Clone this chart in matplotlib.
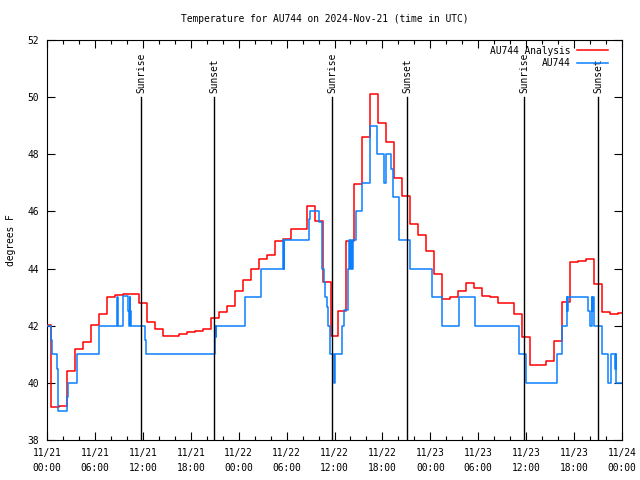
import matplotlib
matplotlib.use("Agg")
import matplotlib.pyplot as plt
import numpy as np

# ---- data ----
analysis_hours = list(range(0, 73))
analysis_temp = [42.02, 39.15, 39.2, 40.4, 41.17, 41.42, 42.02, 42.41, 43.0, 43.06,
                 43.1, 43.1, 42.78, 42.12, 41.9, 41.64, 41.64, 41.7, 41.77, 41.82,
                 41.88, 42.28, 42.47, 42.7, 43.23, 43.59, 44.0, 44.32, 44.46, 44.95,
                 45.03, 45.37, 45.4, 46.19, 45.66, 43.54, 41.65, 42.52, 44.97, 46.95,
                 48.6, 50.1, 49.08, 48.42, 47.16, 46.54, 45.55, 45.18, 44.63, 43.81,
                 42.94, 43.02, 43.23, 43.48, 43.31, 43.05, 43.02, 42.78, 42.78, 42.41,
                 41.6, 40.61, 40.61, 40.76, 41.47, 42.83, 44.22, 44.25, 44.32, 43.46,
                 42.49, 42.41, 42.46]

obs_hours = [0.0, 0.46, 0.58, 1.21, 1.34, 1.42, 2.55, 2.67, 3.8, 6.55,
             8.81, 8.9, 8.95, 9.56, 10.18, 10.25, 10.35, 10.42, 10.5, 10.69,
             12.27, 12.4, 21.05, 21.1, 21.17, 24.79, 26.75, 29.59, 29.63, 29.68,
             32.81, 32.93, 34.02, 34.4, 34.65, 34.85, 35.02, 35.23, 35.44, 35.9,
             36.0, 36.9, 37.19, 37.73, 37.85, 37.95, 38.05, 38.15, 38.36, 38.69,
             39.4, 40.45, 41.28, 42.24, 42.41, 43.08, 43.37, 44.12, 45.45, 48.17,
             49.42, 51.55, 53.59, 59.06, 59.98, 63.82, 64.53, 65.07, 65.15, 65.25,
             65.49, 67.79, 67.95, 68.25, 68.3, 68.37, 68.45, 69.46, 70.29, 70.62,
             71.12, 71.2, 71.25, 72.0]
obs_temp = [42.0, 41.5, 41.0, 40.5, 39.5, 39.0, 39.5, 40.0, 41.0, 42.0,
            43.0, 42.5, 42.0, 43.05, 42.5, 42.0, 43.0, 42.5, 42.0, 42.0,
            41.5, 41.0, 42.0, 41.6, 42.0, 43.0, 44.0, 45.0, 44.0, 45.0,
            45.72, 46.0, 45.64, 44.0, 43.54, 43.0, 42.67, 42.0, 41.0, 40.0,
            41.0, 42.0, 42.55, 44.0, 45.0, 44.0, 45.0, 44.0, 45.0, 46.0,
            47.0, 49.0, 48.0, 47.0, 48.0, 47.5, 46.5, 45.0, 44.0, 43.0,
            42.0, 43.0, 42.0, 41.0, 40.0, 41.0, 42.0, 43.0, 42.5, 43.0,
            43.0, 42.5, 42.0, 43.0, 42.5, 43.0, 42.0, 41.0, 40.0, 41.0,
            40.5, 41.0, 40.0, 40.0]

sun_hours = [11.77, 20.96, 35.69, 45.08, 59.73, 68.99]
sun_labels = ["Sunrise", "Sunset", "Sunrise", "Sunset", "Sunrise", "Sunset"]

xtick_hours = list(range(0, 73, 6))
xtick_labels = ["11/21\n00:00", "11/21\n06:00", "11/21\n12:00", "11/21\n18:00",
                "11/22\n00:00", "11/22\n06:00", "11/22\n12:00", "11/22\n18:00",
                "11/23\n00:00", "11/23\n06:00", "11/23\n12:00", "11/23\n18:00",
                "11/24\n00:00"]
ytick_vals = list(range(38, 53, 2))

title = "Temperature for AU744 on 2024-Nov-21 (time in UTC)"

# ---- plot ----
FS = 6.9
plt.rcParams['font.family'] = ['DejaVu Sans Mono']
fig = plt.figure(figsize=(6.4, 4.8), dpi=100)
ax = fig.add_axes([47/640, 1-440/480, 575/640, 400/480])

ax.plot(analysis_hours, analysis_temp, drawstyle='steps-mid', color='#ff0000',
        lw=1.1, label='AU744 Analysis', zorder=3)
ax.plot(obs_hours, obs_temp, drawstyle='steps-post', color='#0a80ff',
        lw=1.1, label='AU744', zorder=4)

for h, lab in zip(sun_hours, sun_labels):
    ax.plot([h, h], [38, 50], color='black', lw=1.0, zorder=5)
    ax.text(h, 50.15, lab, rotation=90, ha='center', va='bottom', fontsize=FS)

ax.set_xlim(0, 72)
ax.set_ylim(38, 52)
ax.set_xticks(xtick_hours)
ax.set_xticklabels(xtick_labels, fontsize=FS, linespacing=1.6)
ax.set_xticks(list(range(0, 73, 2)), minor=True)
ax.set_yticks(ytick_vals)
ax.set_yticklabels([str(v) for v in ytick_vals], fontsize=FS)
ax.tick_params(axis='both', which='both', direction='in', top=True, right=True,
               width=0.8, colors='black')
ax.tick_params(axis='both', which='major', length=6)
ax.tick_params(axis='both', which='minor', length=3)
ax.tick_params(axis='x', which='major', pad=6)
ax.tick_params(axis='y', which='major', pad=6)
for s in ax.spines.values():
    s.set_linewidth(0.8)

ax.set_ylabel("degrees F", fontsize=FS, labelpad=8)
fig.text(325/640, 1-19/480, title, ha='center', va='center', fontsize=FS)

leg = ax.legend(loc='upper right', bbox_to_anchor=(0.985, 1.0), frameon=False,
                markerfirst=False, fontsize=FS, handlelength=3.2,
                handletextpad=0.7, labelspacing=0.25, borderaxespad=0.2)

fig.savefig("out.png", dpi=100)
